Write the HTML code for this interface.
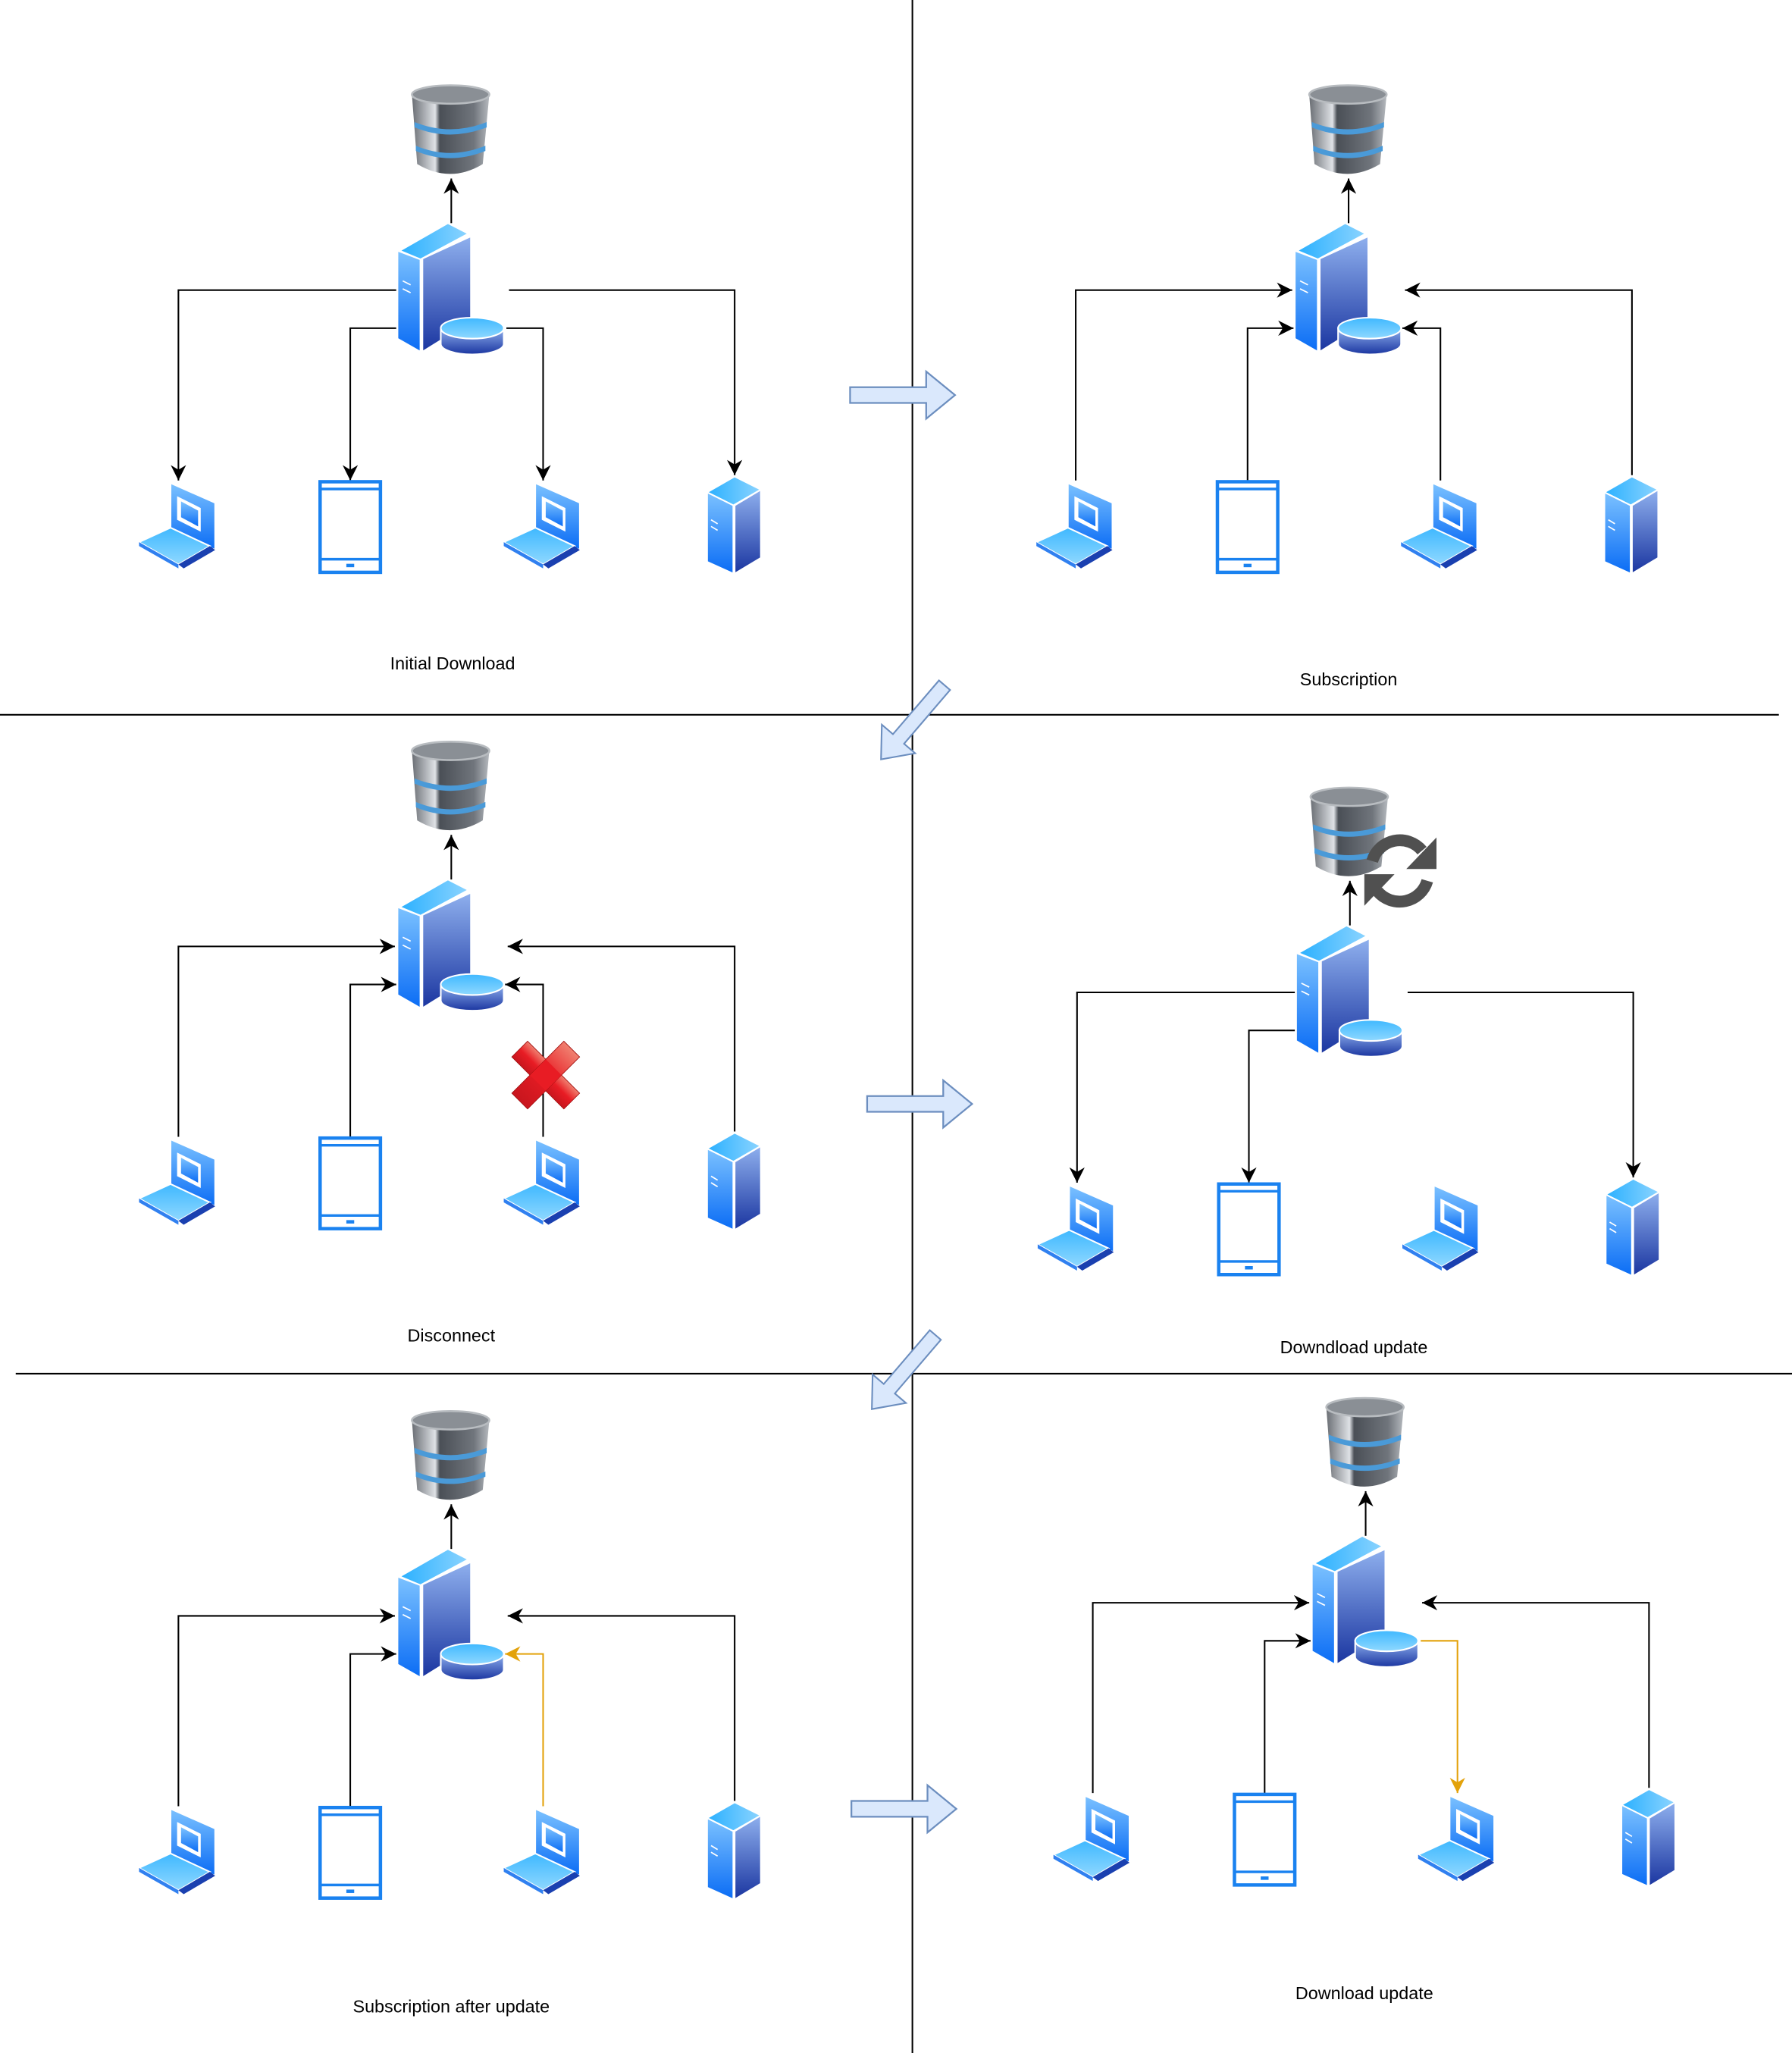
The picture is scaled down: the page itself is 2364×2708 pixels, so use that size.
<!DOCTYPE html>
<html><head><meta charset="utf-8">
<style>html,body{margin:0;padding:0;background:#fff}svg{display:block}</style>
</head><body>
<svg width="2364" height="2708" viewBox="0 0 1366 1564" preserveAspectRatio="none" xmlns="http://www.w3.org/2000/svg" font-family="Liberation Sans, sans-serif">
<defs>
<marker id="ar" markerUnits="userSpaceOnUse" markerWidth="14" markerHeight="12" refX="10" refY="5" orient="auto" viewBox="0 0 12 10">
<path d="M0,0 L10,5 L0,10 L3,5 z" fill="#000"/></marker>
<marker id="ao" markerUnits="userSpaceOnUse" markerWidth="14" markerHeight="12" refX="10" refY="5" orient="auto" viewBox="0 0 12 10">
<path d="M0,0 L10,5 L0,10 L3,5 z" fill="#e3a20b"/></marker>
<linearGradient id="gl" x1="0" y1="0" x2="0" y2="1"><stop offset="0" stop-color="#7cc2ff"/><stop offset="1" stop-color="#0a6cf5"/></linearGradient>
<linearGradient id="gr" x1="0" y1="0" x2="0" y2="1"><stop offset="0" stop-color="#8fb0ee"/><stop offset="1" stop-color="#1a35a0"/></linearGradient>
<linearGradient id="gt" x1="0" y1="0" x2="1" y2="0"><stop offset="0" stop-color="#2ab0ff"/><stop offset="1" stop-color="#8cd4ff"/></linearGradient>
<linearGradient id="gd" x1="0" y1="0" x2="0" y2="1"><stop offset="0" stop-color="#3fb8ff"/><stop offset="1" stop-color="#8fd8ff"/></linearGradient>
<linearGradient id="gdb" x1="0" y1="0" x2="1" y2="0"><stop offset="0" stop-color="#6a6e74"/><stop offset="0.3" stop-color="#dfe2e6"/><stop offset="0.36" stop-color="#4a4f56"/><stop offset="0.8" stop-color="#70757c"/><stop offset="1" stop-color="#b5b9be"/></linearGradient>
<linearGradient id="gx" x1="0" y1="0" x2="0" y2="1"><stop offset="0" stop-color="#f08070"/><stop offset="0.5" stop-color="#e81c24"/><stop offset="1" stop-color="#c8161e"/></linearGradient>
<g id="db">
<path d="M314,72 L373,72 L368,125 Q343,140 318,125 Z" fill="url(#gdb)"/>
<ellipse cx="343.5" cy="72" rx="29.5" ry="7" fill="#8a8f95" stroke="#b8bcc0" stroke-width="1.5"/>
<path d="M316,93 Q343,104 371,93 L371,97 Q343,108 316,97Z" fill="#4a9ad8"/>
<path d="M317,111 Q343,122 370,111 L370,115 Q343,126 317,115Z" fill="#4a9ad8"/>
</g>
<g id="srv">
<polygon points="304.7,191 341.4,170 357.1,178 320.5,197.6" fill="url(#gt)" stroke="#fff" stroke-width="1.2"/>
<polygon points="303,191 320.5,197.6 320.5,268 303,258" fill="url(#gl)" stroke="#fff" stroke-width="1.2"/>
<polygon points="322,197 359,180 359,245 322,268" fill="url(#gr)" stroke="#fff" stroke-width="1.2"/>
<line x1="307" y1="214" x2="313" y2="217" stroke="#fff"/><line x1="307" y1="220" x2="313" y2="223" stroke="#fff"/>
<path d="M336,250 L336,262 A24,8 0 0 0 384,262 L384,250 Z" fill="url(#gr)" stroke="#fff" stroke-width="1.2"/>
<ellipse cx="360" cy="250" rx="24" ry="8" fill="url(#gd)" stroke="#fff" stroke-width="1.2"/>
</g>
<g id="lap">
<polygon points="130,368 164,383 164,419 130,403" fill="url(#gl)" stroke="#fff" stroke-width="1.2"/>
<polygon points="135,378 153,387 153,405 135,396" fill="#fff"/>
<polygon points="138,382 151,389 151,401 138,394" fill="url(#gl)"/>
<polygon points="106,413 130,402 160,416 136,430" fill="url(#gd)" stroke="#fff" stroke-width="1.2"/>
<polygon points="136,430 160,416 164,419 140,433" fill="#1a40b0"/>
<polygon points="106,413 136,430 136,433 106,416" fill="#3080f0"/>
</g>
<g id="tab">
<rect x="244" y="367" width="46" height="69" fill="none" stroke="#1a82f0" stroke-width="2.6"/>
<line x1="244" y1="372.5" x2="290" y2="372.5" stroke="#1a82f0" stroke-width="2"/>
<line x1="244" y1="426" x2="290" y2="426" stroke="#1a82f0" stroke-width="2"/>
<rect x="264" y="429.5" width="6" height="2.6" fill="#1a82f0"/>
</g>
<g id="ss">
<polygon points="539,375 560,363 580,373 559,385" fill="url(#gt)" stroke="#fff" stroke-width="1.2"/>
<polygon points="539,375 559,385 559,437 539,428" fill="url(#gl)" stroke="#fff" stroke-width="1.2"/>
<polygon points="560,385 580,373 580,425 560,437" fill="url(#gr)" stroke="#fff" stroke-width="1.2"/>
<line x1="542" y1="396" x2="547" y2="399" stroke="#fff"/><line x1="542" y1="401" x2="547" y2="404" stroke="#fff"/>
</g>
<g id="icons"><use href="#db"/><use href="#srv"/><use href="#lap"/><use href="#tab"/><use href="#lap" transform="translate(278,0)"/><use href="#ss"/></g>
<g id="blk"><polygon points="0,-6 58,-6 58,-18 80,0 58,18 58,6 0,6" fill="#dae8fc" stroke="#6c8ebf" stroke-width="1.3"/></g>
</defs>

<g stroke="#000" stroke-width="1.2">
<line x1="695.5" y1="0" x2="695.5" y2="1564"/>
<line x1="0" y1="544.5" x2="1356" y2="544.5"/>
<line x1="12" y1="1046.5" x2="1366" y2="1046.5"/>
</g>

<g fill="none" stroke="#000" stroke-width="1.2" marker-end="url(#ar)">
<g>
<path d="M344,170 V136"/><path d="M302,221 H136 V366"/><path d="M302,250 H267 V366"/><path d="M386,250 H414 V366"/><path d="M388,221 H560 V362"/>
</g>
<g transform="translate(684,0)">
<path d="M344,170 V136"/><path d="M136,366 V221 H301"/><path d="M267,366 V250 H302"/><path d="M414,366 V250 H385"/><path d="M560,362 V221 H387"/>
</g>
<g transform="translate(0,500)">
<path d="M344,170 V136"/><path d="M136,366 V221 H301"/><path d="M267,366 V250 H302"/><path d="M414,366 V250 H385"/><path d="M560,362 V221 H387"/>
</g>
<g transform="translate(685,535)">
<path d="M344,170 V136"/><path d="M302,221 H136 V366"/><path d="M302,250 H267 V366"/><path d="M388,221 H560 V362"/>
</g>
<g transform="translate(0,1010)">
<path d="M344,170 V136"/><path d="M136,366 V221 H301"/><path d="M267,366 V250 H302"/><path d="M560,362 V221 H387"/>
<path d="M414,366 V250 H385" stroke="#e3a20b" marker-end="url(#ao)"/>
</g>
<g transform="translate(697,1000)">
<path d="M344,170 V136"/><path d="M136,366 V221 H301"/><path d="M267,366 V250 H302"/><path d="M560,362 V221 H387"/>
<path d="M386,250 H414 V366" stroke="#e3a20b" marker-end="url(#ao)"/>
</g>
</g>

<use href="#icons"/>
<use href="#icons" transform="translate(684,0)"/>
<use href="#icons" transform="translate(0,500)"/>
<use href="#icons" transform="translate(685,535)"/>
<use href="#icons" transform="translate(0,1010)"/>
<use href="#icons" transform="translate(697,1000)"/>

<g transform="translate(416,819) rotate(45) scale(0.85)">
<rect x="-33" y="-10" width="66" height="20" fill="url(#gx)" stroke="#a01010" stroke-width="0.6"/>
<rect x="-10" y="-33" width="20" height="66" fill="url(#gx)" stroke="#a01010" stroke-width="0.6"/>
<rect x="-10" y="-10" width="20" height="20" fill="#e81c24"/>
</g>

<g fill="none" stroke="#505050" stroke-width="9">
<path d="M1046,656 A22,22 0 0 1 1084,648"/>
<path d="M1088,671 A22,22 0 0 1 1050,679"/>
</g>
<polygon points="1095,638 1095,662 1072,662" fill="#505050"/>
<polygon points="1040,690 1040,666 1063,666" fill="#505050"/>

<use href="#blk" transform="translate(648,301)"/>
<use href="#blk" transform="translate(661,841)"/>
<use href="#blk" transform="translate(649,1378)"/>
<use href="#blk" transform="translate(720,522) rotate(130.6) scale(0.93)"/>
<use href="#blk" transform="translate(713,1017) rotate(130.6) scale(0.93)"/>

<g font-size="13.5" fill="#000" text-anchor="middle">
<text x="345" y="510">Initial Download</text>
<text x="1028" y="522">Subscription</text>
<text x="344" y="1022">Disconnect</text>
<text x="1032" y="1031">Downdload update</text>
<text x="344" y="1533">Subscription after update</text>
<text x="1040" y="1523">Download update</text>
</g>
</svg>
</body></html>
